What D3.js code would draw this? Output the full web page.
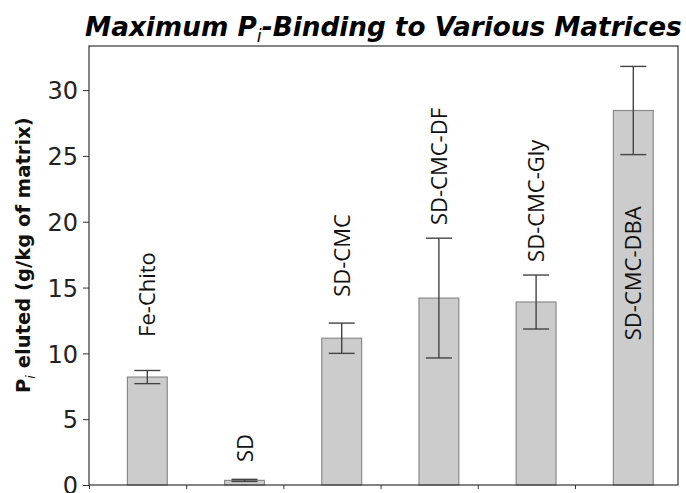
<!DOCTYPE html>
<html>
<head>
<meta charset="utf-8">
<script src="https://cdn.jsdelivr.net/npm/d3@7"></script>
<style>
  body { margin: 0; background: #fff; }
  svg { display: block; }
</style>
</head>
<body>
<svg id="chart" width="686" height="493"></svg>
<script>
// values
const matrices = ['Fe-Chito', 'SD', 'SD-CMC', 'SD-CMC-DF', 'SD-CMC-Gly', 'SD-CMC-DBA'];
const piEluted = [8.2, 0.35, 11.15, 14.2, 13.9, 28.45];
const piError = [0.5, 0.08, 1.15, 4.55, 2.05, 3.35];
// where each rotated name starts (in g/kg units)
const labelAt = [11.25, 1.75, 14.3, 19.75, 16.95, 11.0];
const yTicks = [0, 5, 10, 15, 20, 25, 30];

const svg = d3.select('#chart');
const margin = {top: 46, right: 8, bottom: 8, left: 89};
const width = 686 - margin.left - margin.right,
  height = 485 - margin.top;

const g = svg.append('g').attr('transform', `translate(${margin.left},${margin.top})`);

// ticks sit on integer positions, bars are shifted 0.6 to the right
const x = d3.scaleLinear().domain([0, 6.06]).range([0, width]);
const y = d3.scaleLinear().domain([0, 33.35]).range([height, 0]);
const step = x(1) - x(0);
const barW = step * 0.41;

// bars
g.selectAll('rect.bar')
  .data(piEluted)
  .enter().append('rect')
    .attr('class', 'bar')
    .attr('x', (d, i) => x(i + 0.6) - barW / 2)
    .attr('y', (d) => y(d))
    .attr('width', barW)
    .attr('height', (d) => y(0) - y(d))
    .attr('fill', '#cccccc')
    .attr('stroke', '#8a8a8a')
    .attr('stroke-width', 1.2);

// error bars
const err = g.append('g').attr('stroke', '#444').attr('stroke-width', 1.4);
piEluted.forEach(function(v, i) {
  const cx = x(i + 0.6);
  const lo = y(v - piError[i]), hi = y(v + piError[i]);
  err.append('line').attr('x1', cx).attr('x2', cx).attr('y1', lo).attr('y2', hi);
  err.append('line').attr('x1', cx - 13).attr('x2', cx + 13).attr('y1', lo).attr('y2', lo);
  err.append('line').attr('x1', cx - 13).attr('x2', cx + 13).attr('y1', hi).attr('y2', hi);
});

// rotated names
g.selectAll('text.name')
  .data(matrices)
  .enter().append('text')
    .attr('class', 'name')
    .attr('transform', (d, i) => `translate(${x(i + 0.6) + 8},${y(labelAt[i])}) rotate(-90)`)
    .style('font-family', '"Open Sans", sans-serif')
    .style('font-size', '22px')
    .attr('fill', '#111')
    .text((d) => d);

// axes
const yAxis = g.append('g')
  .call(d3.axisLeft(y).tickValues(yTicks).tickSize(6).tickPadding(5));
yAxis.selectAll('text')
  .style('font-family', '"DejaVu Sans", sans-serif')
  .style('font-size', '24px')
  .attr('fill', '#222')
  .attr('dy', '0.36em');

g.append('g')
  .attr('transform', `translate(0,${height})`)
  .call(d3.axisBottom(x).tickValues([0, 1, 2, 3, 4, 5]).tickSize(4).tickFormat(''));

g.selectAll('.domain').remove();
g.selectAll('.tick line').attr('stroke', '#333');

// frame
g.append('rect')
  .attr('width', width).attr('height', height)
  .attr('fill', 'none').attr('stroke', '#333').attr('stroke-width', 1.2);

// y label, fitted to the span seen in the reference (y 117..393)
const yl = svg.append('text')
  .attr('transform', 'translate(30,393) rotate(-90)')
  .attr('text-anchor', 'start')
  .style('font-family', '"DejaVu Sans", sans-serif')
  .style('font-weight', 'bold')
  .style('font-size', '18px')
  .attr('fill', '#111');
yl.append('tspan').text('P');
yl.append('tspan').attr('dy', 5).style('font-style', 'italic').style('font-weight', 'normal').style('font-size', '0.65em').text('i');
yl.append('tspan').attr('dy', -5).text(' eluted (g/kg of matrix)');
const ylLen = yl.node().getBBox().width;
yl.style('font-size', (18 * 276 / ylLen) + 'px');

// title, fitted to x 85..682
const title = svg.append('text')
  .attr('x', 85)
  .attr('y', 36)
  .attr('text-anchor', 'start')
  .style('font-family', '"DejaVu Sans", sans-serif')
  .style('font-weight', 'bold')
  .style('font-style', 'italic')
  .style('font-size', '25px')
  .attr('fill', '#000');
title.append('tspan').text('Maximum P');
title.append('tspan').attr('dy', 6).style('font-size', '0.68em').style('font-weight', 'normal').text('i');
title.append('tspan').attr('dy', -6).text('-Binding to Various Matrices');
const tLen = title.node().getBBox().width;
title.style('font-size', (25 * 597 / tLen) + 'px');
</script>
</body>
</html>
